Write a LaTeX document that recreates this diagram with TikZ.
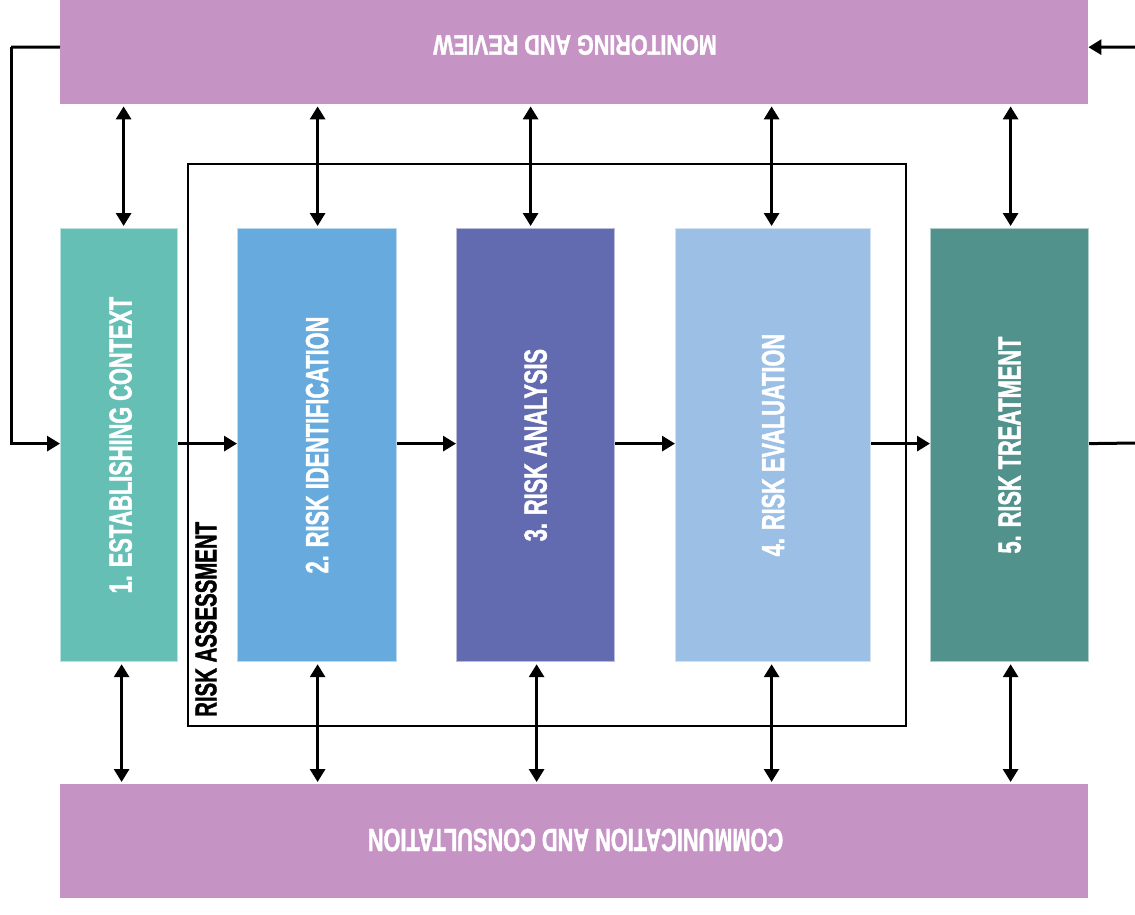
\documentclass[tikz,border=0pt]{standalone}
\usepackage{fontspec}
\newfontfamily\cf[FakeStretch=0.68,FakeBold=1.3]{Liberation Sans}
\newfontfamily\cft[FakeStretch=0.77,FakeBold=1.3]{Liberation Sans}
\usetikzlibrary{arrows.meta}
\definecolor{band}{RGB}{197,148,197}
\definecolor{cA}{RGB}{102,191,181}
\definecolor{cB}{RGB}{103,170,221}
\definecolor{cC}{RGB}{99,107,176}
\definecolor{cD}{RGB}{155,191,229}
\definecolor{cE}{RGB}{82,146,140}
\begin{document}
\begin{tikzpicture}[x=1pt,y=-1pt,
  bandbox/.style={fill=band, draw=none, minimum width=1028pt, inner sep=0pt, anchor=north west},
  stagebox/.style={fill=#1, draw=#1!45!white, line width=1.2pt, minimum height=433pt, inner sep=0pt, anchor=north west},
  stagetext/.style={rotate=90, text=white, inner sep=0pt, font=\cf\bfseries\fontsize{32}{32}\selectfont},
  bandtext/.style={rotate=180, text=white, inner sep=0pt},
  conn/.style={line width=3pt, -{Triangle[length=13pt,width=15pt]}},
  dbl/.style={line width=3pt, {Triangle[length=13pt,width=15pt]}-{Triangle[length=13pt,width=15pt]}, shorten >=2pt, shorten <=2pt},
  plain/.style={line width=3pt}]
\useasboundingbox (0,0) rectangle (1135,914);
% risk assessment frame
\node[draw=black, line width=1.6pt, minimum width=718pt, minimum height=562pt, inner sep=0pt, anchor=north west] (ra) at (187,163) {};
\node[rotate=90, anchor=west, inner sep=0pt, font=\cf\bfseries\fontsize{30}{30}\selectfont] (ralabel) at (206,717) {RISK ASSESSMENT};
% bands
\node[bandbox, minimum height=104pt] (mon) at (60,0) {};
\node[bandtext, font=\cft\bfseries\fontsize{28}{28}\selectfont] (montext) at (575,45) {MONITORING AND REVIEW};
\node[bandbox, minimum height=114pt] (com) at (60,784) {};
\node[bandtext, font=\cf\bfseries\fontsize{32}{32}\selectfont] (comtext) at (575.5,840) {COMMUNICATION AND CONSULTATION};
% stages
\node[stagebox=cA, minimum width=117pt] (b1) at (60,228) {};
\node[stagebox=cB, minimum width=159pt] (b2) at (237,228) {};
\node[stagebox=cC, minimum width=158pt] (b3) at (456,228) {};
\node[stagebox=cD, minimum width=195pt] (b4) at (675,228) {};
\node[stagebox=cE, minimum width=158pt] (b5) at (930,228) {};
\node[stagetext] (t1) at ([xshift=1.5pt]b1.center) {1. ESTABLISHING CONTEXT};
\node[stagetext] (t2) at (b2.center) {2. RISK IDENTIFICATION};
\node[stagetext] (t3) at (b3.center) {3. RISK ANALYSIS};
\node[stagetext] (t4) at (b4.center) {4. RISK EVALUATION};
\node[stagetext] (t5) at (b5.center) {5. RISK TREATMENT};
% horizontal flow
\draw[conn] ([yshift=1.5pt]b1.east) -- ([yshift=1.5pt]b2.west);
\draw[conn] ([yshift=1.5pt]b2.east) -- ([yshift=1.5pt]b3.west);
\draw[conn] ([yshift=1.5pt]b3.east) -- ([yshift=1.5pt]b4.west);
\draw[conn] ([yshift=1.5pt]b4.east) -- ([yshift=1.5pt]b5.west);
\coordinate (rend) at (1135,443);
\draw[plain] ([yshift=1.5pt]b5.east) -- (rend);
% feedback loops
\coordinate (lcorner) at (11,47);
\draw[line width=3pt] ([yshift=5pt]mon.west) -- (lcorner);
\draw[conn] (lcorner) |- ([yshift=1.5pt]b1.west);
\coordinate (rin) at (1135,47);
\draw[conn] (rin) -- ([yshift=5pt]mon.east);
% vertical links to monitoring
\draw[dbl] ([xshift=4.5pt]b1.north |- mon.south) -- ([xshift=4.5pt]b1.north);
\draw[dbl] ([xshift=0.5pt]b2.north |- mon.south) -- ([xshift=0.5pt]b2.north);
\draw[dbl] ([xshift=-5pt]b3.north |- mon.south) -- ([xshift=-5pt]b3.north);
\draw[dbl] ([xshift=-1.5pt]b4.north |- mon.south) -- ([xshift=-1.5pt]b4.north);
\draw[dbl] ([xshift=1pt]b5.north |- mon.south) -- ([xshift=1pt]b5.north);
% vertical links to communication
\draw[dbl] ([xshift=2.5pt]b1.south) -- ([xshift=2.5pt]b1.south |- com.north);
\draw[dbl] ([xshift=0.5pt]b2.south) -- ([xshift=0.5pt]b2.south |- com.north);
\draw[dbl] ([xshift=1pt]b3.south) -- ([xshift=1pt]b3.south |- com.north);
\draw[dbl] ([xshift=-1.5pt]b4.south) -- ([xshift=-1.5pt]b4.south |- com.north);
\draw[dbl] ([xshift=1pt]b5.south) -- ([xshift=1pt]b5.south |- com.north);
\end{tikzpicture}
\end{document}
